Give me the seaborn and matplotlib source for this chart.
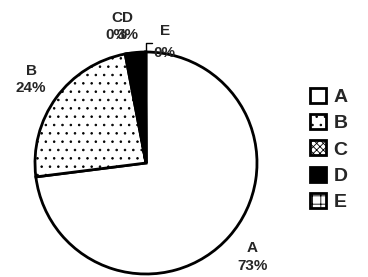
import matplotlib
matplotlib.use("Agg")
import matplotlib.pyplot as plt
import seaborn as sns
from matplotlib.patches import Patch

# ======================
# DATA
# ======================
categories = ["A", "B", "C", "D", "E"]
values = [73.0, 24.0, 0.3, 2.6, 0.1]
hatches = ["", "..", "xxxxx", "", "++"]
faces = ["white", "white", "white", "black", "white"]

sns.set_style("white")
plt.rcParams["font.family"] = ["Liberation Sans", "DejaVu Sans"]
plt.rcParams["hatch.linewidth"] = 0.6

fig = plt.figure(figsize=(3.68, 2.77), dpi=100)
W, H = 368, 277
cx, cy, r = 146, 163, 111
ax = fig.add_axes([(cx - r) / W, (H - cy - r) / H, 2 * r / W, 2 * r / H])

total = sum(values)
labels = [f"{c}\n{v / total * 100:.0f}%" for c, v in zip(categories, values)]

wedges, texts = ax.pie(
    values,
    labels=labels,
    startangle=90,
    counterclock=False,
    labeldistance=1.28,
    colors=faces,
    wedgeprops=dict(edgecolor="black", linewidth=2.0),
    textprops=dict(fontsize=11, fontweight="bold", ha="center", va="center",
                   linespacing=1.3),
)
for w, h in zip(wedges, hatches):
    w.set_hatch(h)

# crowded labels of the small slices at the top
texts[2].set_position((-0.265, 1.23))
texts[3].set_position((-0.165, 1.23))
texts[4].set_position((0.17, 1.09))
texts[4].set_linespacing(1.8)
ax.plot([0, 0, 0.055], [1.0, 1.08, 1.08], color="black", lw=1.0,
        clip_on=False)

ax.set_xlim(-1, 1)
ax.set_ylim(-1, 1)
ax.axis("off")

# ======================
# LEGEND
# ======================
handles = [Patch(facecolor=f, edgecolor="black", hatch=h, linewidth=2.0)
           for f, h in zip(faces, hatches)]
fig.legend(
    handles, categories,
    loc="center left",
    bbox_to_anchor=(0.795, 0.46),
    frameon=False,
    handlelength=0.8,
    handleheight=0.8,
    handletextpad=0.4,
    labelspacing=0.42,
    prop=dict(size=14, weight="bold"),
)

fig.savefig("out.png", dpi=100)
